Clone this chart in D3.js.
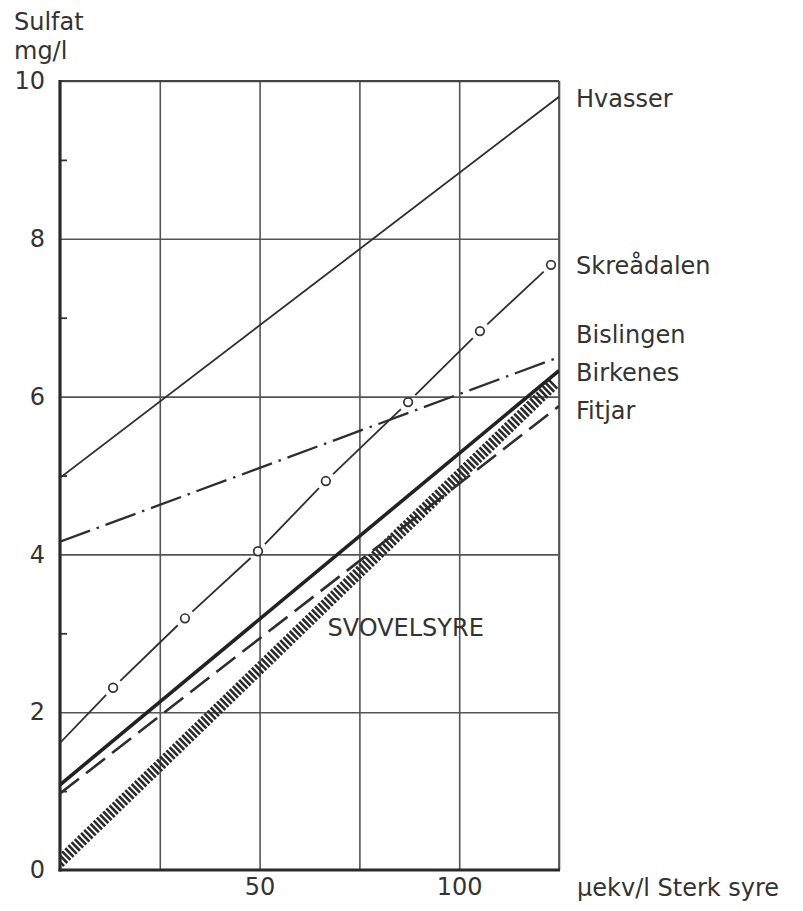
<!DOCTYPE html>
<html>
<head>
<meta charset="utf-8">
<script src="https://cdnjs.cloudflare.com/ajax/libs/d3/7.8.5/d3.min.js"></script>
<style>
body { margin:0; background:#fff; }
svg text { font-family:"DejaVu Sans", sans-serif; fill:#333; }
</style>
</head>
<body>
<svg id="chart"></svg>
<script>
// values (x: µekv/l sterk syre, y: sulfat mg/l)
var xTickLabels = [50, 100]
var xGrid = [25, 50, 75, 100, 125]
var yTickLabels = [0, 2, 4, 6, 8, 10]
var yGrid = [2, 4, 6, 8, 10]
var yMinor = [1, 3, 5, 7, 9]

var hvasser = [{x:0, y:4.97}, {x:125, y:9.8}]
var skreadalen = [
    {x:0, y:1.61}, {x:13.3, y:2.31}, {x:31.3, y:3.19}, {x:49.6, y:4.04},
    {x:66.6, y:4.93}, {x:87.2, y:5.93}, {x:105.2, y:6.83}, {x:123.0, y:7.67}
]
var bislingen = [{x:0, y:4.16}, {x:125, y:6.5}]
var birkenes = [{x:0, y:1.08}, {x:125, y:6.33}]
var fitjar = [{x:0, y:0.97}, {x:125, y:5.88}]
var svovelsyre = [{x:0, y:0}, {x:125, y:6.12}]

var stationNames = ["Hvasser", "Skreådalen", "Bislingen", "Birkenes", "Fitjar"]
var stationSeries = [hvasser, skreadalen, bislingen, birkenes, fitjar]

var initGraph = function(target)
{
    var screen = {width:803, height:911}
    var margins = {top:81, bottom:41, left:60, right:244}
    var graph =
    {
        width:screen.width-margins.left-margins.right,
        height:screen.height-margins.top-margins.bottom,
    }

    var svg = d3.select(target)
        .attr("width", screen.width)
        .attr("height", screen.height)

    var g = svg.append("g")
        .classed("graph", true)
        .attr("transform", "translate(" + margins.left + "," + margins.top + ")")

    var xScale = d3.scaleLinear()
        .domain([0, 125])
        .range([0, graph.width])

    var yScale = d3.scaleLinear()
        .domain([0, 10])
        .range([graph.height, 0])

    g.append("clipPath")
        .attr("id", "plotclip")
        .append("rect")
        .attr("width", graph.width)
        .attr("height", graph.height)

    // grid
    g.append("g")
        .attr("transform", "translate(0," + graph.height + ")")
        .call(d3.axisBottom(xScale).tickValues(xGrid).tickSize(-graph.height).tickFormat(""))
        .call(function(a) { a.select(".domain").remove() })
        .selectAll("line").attr("stroke", "#555").attr("stroke-width", 1.6)

    g.append("g")
        .call(d3.axisLeft(yScale).tickValues(yGrid).tickSize(-graph.width).tickFormat(""))
        .call(function(a) { a.select(".domain").remove() })
        .selectAll("line").attr("stroke", "#555").attr("stroke-width", 1.6)

    g.append("g")
        .call(d3.axisLeft(yScale).tickValues(yMinor).tickSize(-7).tickFormat(""))
        .call(function(a) { a.select(".domain").remove() })
        .selectAll("line").attr("stroke", "#333").attr("stroke-width", 1.8)

    // tick labels
    var xAxis = g.append("g")
        .attr("transform", "translate(0," + graph.height + ")")
        .call(d3.axisBottom(xScale).tickValues(xTickLabels).tickSize(0).tickPadding(8))
    xAxis.select(".domain").remove()
    xAxis.selectAll("text").attr("font-size", 24).attr("fill", "#333").style("font-family", "DejaVu Sans")

    var yAxis = g.append("g")
        .call(d3.axisLeft(yScale).tickValues(yTickLabels).tickSize(0).tickPadding(15))
    yAxis.select(".domain").remove()
    yAxis.selectAll("text").attr("font-size", 24).attr("fill", "#333").style("font-family", "DejaVu Sans")

    // frame: thin top and right, heavy left and bottom
    g.append("line").attr("x1", 0).attr("x2", graph.width).attr("y1", 0).attr("y2", 0)
        .attr("stroke", "#444").attr("stroke-width", 2)
    g.append("line").attr("x1", graph.width).attr("x2", graph.width).attr("y1", 0).attr("y2", graph.height)
        .attr("stroke", "#555").attr("stroke-width", 1.8)
    g.append("line").attr("x1", 0).attr("x2", 0).attr("y1", -1).attr("y2", graph.height + 1.5)
        .attr("stroke", "#2a2a2a").attr("stroke-width", 3.2)
    g.append("line").attr("x1", -1.5).attr("x2", graph.width + 1).attr("y1", graph.height).attr("y2", graph.height)
        .attr("stroke", "#2a2a2a").attr("stroke-width", 3)

    var lineGenerator = d3.line()
        .x(function(entry) { return xScale(entry.x) })
        .y(function(entry) { return yScale(entry.y) })

    var plot = g.append("g").attr("clip-path", "url(#plotclip)")

    // svovelsyre: hatched band sitting on the line
    var p0 = [xScale(svovelsyre[0].x), yScale(svovelsyre[0].y)]
    var p1 = [xScale(svovelsyre[1].x), yScale(svovelsyre[1].y)]
    var len = Math.hypot(p1[0]-p0[0], p1[1]-p0[1])
    var bandWidth = 12
    var off = bandWidth / 2
    var nx = (p1[1]-p0[1]) / len * off
    var ny = -(p1[0]-p0[0]) / len * off
    plot.append("path")
        .datum(svovelsyre)
        .attr("d", lineGenerator)
        .attr("transform", "translate(" + nx + "," + ny + ")")
        .attr("fill", "none")
        .attr("stroke", "#2a2a2a")
        .attr("stroke-width", bandWidth)
        .attr("stroke-dasharray", "2.6,1.8")

    plot.append("path")
        .datum(hvasser)
        .attr("d", lineGenerator)
        .attr("fill", "none")
        .attr("stroke", "#2e2e2e")
        .attr("stroke-width", 1.8)

    plot.append("path")
        .datum(bislingen)
        .attr("d", lineGenerator)
        .attr("fill", "none")
        .attr("stroke", "#2e2e2e")
        .attr("stroke-width", 2.3)
        .attr("stroke-dasharray", "32,7,2.5,7")

    plot.append("path")
        .datum(fitjar)
        .attr("d", lineGenerator)
        .attr("fill", "none")
        .attr("stroke", "#2e2e2e")
        .attr("stroke-width", 2.6)
        .attr("stroke-dasharray", "24,9")

    plot.append("path")
        .datum(birkenes)
        .attr("d", lineGenerator)
        .attr("fill", "none")
        .attr("stroke", "#222")
        .attr("stroke-width", 3.6)

    // Skreådalen: line broken at each measured point
    var gap = 10
    var segs = []
    for (var i = 0; i < skreadalen.length - 1; i++)
    {
        var a = skreadalen[i], b = skreadalen[i+1]
        var ax = xScale(a.x), ay = yScale(a.y), bx = xScale(b.x), by = yScale(b.y)
        var l = Math.hypot(bx-ax, by-ay)
        var ux = (bx-ax)/l, uy = (by-ay)/l
        var s = i == 0 ? 0 : gap
        segs.push([ax+ux*s, ay+uy*s, bx-ux*gap, by-uy*gap])
    }
    plot.selectAll(".skseg")
        .data(segs)
        .enter()
        .append("line")
        .classed("skseg", true)
        .attr("x1", function(d) { return d[0] })
        .attr("y1", function(d) { return d[1] })
        .attr("x2", function(d) { return d[2] })
        .attr("y2", function(d) { return d[3] })
        .attr("stroke", "#2e2e2e")
        .attr("stroke-width", 1.8)

    g.selectAll(".skpt")
        .data(skreadalen.slice(1))
        .enter()
        .append("circle")
        .classed("skpt", true)
        .attr("cx", function(d) { return xScale(d.x) })
        .attr("cy", function(d) { return yScale(d.y) })
        .attr("r", 4.3)
        .attr("fill", "#fff")
        .attr("stroke", "#333")
        .attr("stroke-width", 1.7)

    // station labels at the right
    var nudge = [10, 9, -14, 10, 13]
    g.selectAll(".station")
        .data(stationNames)
        .enter()
        .append("text")
        .classed("station", true)
        .attr("x", graph.width + 17)
        .attr("y", function(d, i)
        {
            var s = stationSeries[i]
            return yScale(s[s.length-1].y) + nudge[i]
        })
        .attr("font-size", 24)
        .text(function(d) { return d })

    g.append("text")
        .attr("x", xScale(67))
        .attr("y", yScale(2.97))
        .attr("font-size", 24)
        .text("SVOVELSYRE")

    // axis titles
    svg.append("text").attr("x", 14).attr("y", 30).attr("font-size", 24).text("Sulfat")
    svg.append("text").attr("x", 14).attr("y", 59).attr("font-size", 24).text("mg/l")
    svg.append("text").attr("x", 577).attr("y", 896).attr("font-size", 24).text("µekv/l  Sterk syre")
}

initGraph("#chart")
</script>
</body>
</html>
